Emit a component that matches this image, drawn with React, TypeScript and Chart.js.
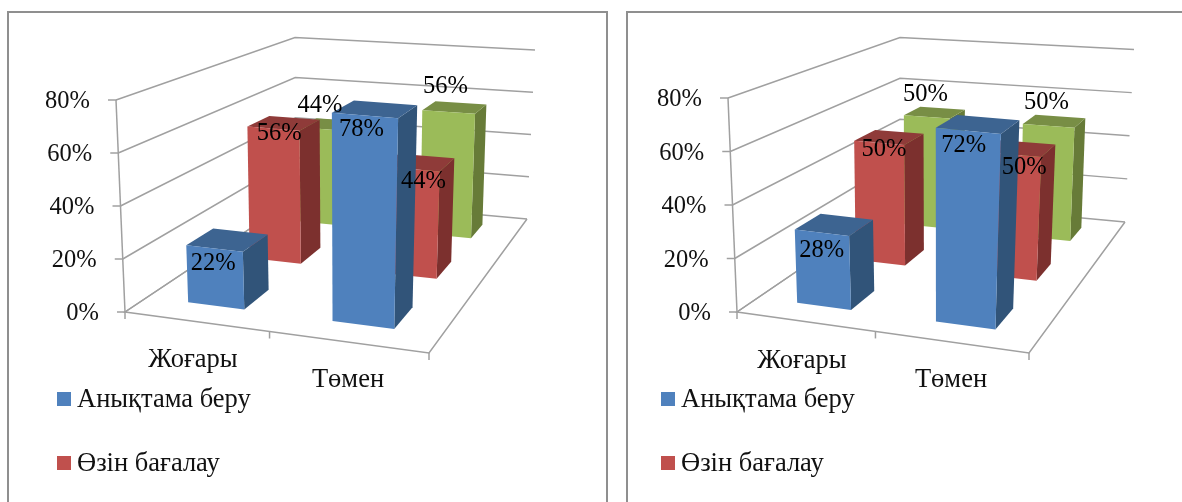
import React, { useEffect, useRef } from "react";
import { Chart, registerables } from "chart.js";

Chart.register(...registerables);

const categories = ["Жоғары", "Төмен"];
const seriesNames = ["Анықтама беру", "Өзін бағалау", ""];
const leftBlue = [22, 78];
const leftRed = [56, 44];
const leftGreen = [44, 56];
const rightBlue = [28, 72];
const rightRed = [50, 50];
const rightGreen = [50, 50];

const FONT = '"Liberation Serif", "Times New Roman", serif';
const GRID = "#a0a0a0";
const TEXT = "#111111";
const faces = [
  { front: "#4f81bd", top: "#3d6491", side: "#315479" },
  { front: "#c0504d", top: "#8f3b39", side: "#7c302e" },
  { front: "#9bbb59", top: "#788e45", side: "#677b38" },
];
const depthSlots = [
  [0.1, 0.235],
  [0.435, 0.57],
  [0.775, 0.905],
];

type P = [number, number];
type Layout = {
  originX: number;
  originY: number;
  legendX: number;
  floor: [P, P, P, P];
  top: [P, P, P, P];
  catLabels: P[];
  labelShift: P[][];
};

const leftLayout: Layout = {
  originX: 9,
  originY: 13,
  legendX: 57,
  floor: [[125, 312], [429, 353], [527, 219], [296, 198]],
  top: [[116, 100], [437, 128], [535, 50], [295, 37.5]],
  catLabels: [[193, 360], [348, 380]],
  labelShift: [
    [[-1, 15], [-3, 14]],
    [[6, 5], [13, 13]],
    [[-3, -24], [-3, -25]],
  ],
};
const rightLayout: Layout = {
  originX: 628,
  originY: 13,
  legendX: 661,
  floor: [[737, 312], [1029, 353], [1125, 222], [900, 201]],
  top: [[728, 98], [1041, 128], [1134, 49.5], [900, 37.5]],
  catLabels: [[802, 361], [951, 380]],
  labelShift: [
    [[0, 18], [-4, 15]],
    [[5, 7], [12, 13]],
    [[-1, -22], [-2, -23]],
  ],
};

function homography(q: [P, P, P, P]) {
  const [[x0, y0], [x1, y1], [x2, y2], [x3, y3]] = q;
  const dx1 = x1 - x2, dx2 = x3 - x2, dx3 = x0 - x1 + x2 - x3;
  const dy1 = y1 - y2, dy2 = y3 - y2, dy3 = y0 - y1 + y2 - y3;
  const den = dx1 * dy2 - dx2 * dy1;
  const g = (dx3 * dy2 - dx2 * dy3) / den;
  const h = (dx1 * dy3 - dx3 * dy1) / den;
  const a = x1 - x0 + g * x1, b = x3 - x0 + h * x3;
  const d = y1 - y0 + g * y1, e = y3 - y0 + h * y3;
  return (u: number, w: number): P => {
    const s = g * u + h * w + 1;
    return [(a * u + b * w + x0) / s, (d * u + e * w + y0) / s];
  };
}

function makePlugin(layout: Layout) {
  const floor = homography(layout.floor);
  const ceil = homography(layout.top);
  const project = (u: number, v: number, w: number): P => {
    const f = floor(u, w), t = ceil(u, w);
    return [
      f[0] + (t[0] - f[0]) * v - layout.originX,
      f[1] + (t[1] - f[1]) * v - layout.originY,
    ];
  };
  const line = (c: CanvasRenderingContext2D, pts: P[]) => {
    c.beginPath();
    pts.forEach((p, i) => (i ? c.lineTo(p[0], p[1]) : c.moveTo(p[0], p[1])));
    c.stroke();
  };
  const poly = (c: CanvasRenderingContext2D, pts: P[], fill: string) => {
    c.beginPath();
    pts.forEach((p, i) => (i ? c.lineTo(p[0], p[1]) : c.moveTo(p[0], p[1])));
    c.closePath();
    c.fillStyle = fill;
    c.fill();
  };
  return {
    id: "pseudo3d",
    beforeDatasetsDraw(chart: any) {
      const c: CanvasRenderingContext2D = chart.ctx;
      const xs = chart.scales.x, ys = chart.scales.y;
      const U = (px: number) => (px - xs.left) / (xs.right - xs.left);
      const V = (py: number) => (ys.bottom - py) / (ys.bottom - ys.top);
      c.save();
      c.strokeStyle = GRID;
      c.lineWidth = 1.5;
      c.lineJoin = "miter";
      for (const t of ys.ticks) {
        const v = V(ys.getPixelForValue(t.value));
        line(c, [project(0, v, 0), project(0, v, 1), project(1, v, 1)]);
        const a = project(0, v, 0);
        line(c, [[a[0] - 8, a[1]], a]);
        c.fillStyle = TEXT;
        c.font = `24.5px ${FONT}`;
        c.textAlign = "right";
        c.textBaseline = "middle";
        c.fillText(t.label, a[0] - 26, a[1] + 2);
      }
      line(c, [project(0, 1, 0), project(0, 0, 0)]);
      line(c, [project(0, 0, 1), project(0, 0, 0), project(1, 0, 0), project(1, 0, 1)]);
      for (const u of [0, 0.5, 1]) {
        const a = project(u, 0, 0);
        line(c, [a, [a[0], a[1] + 7]]);
      }
      c.fillStyle = TEXT;
      c.font = `26.5px ${FONT}`;
      c.textAlign = "center";
      c.textBaseline = "middle";
      categories.forEach((name, i) => {
        const p = layout.catLabels[i];
        c.fillText(name, p[0] - layout.originX, p[1] - layout.originY);
      });
      const labels: { text: string; x: number; y: number }[] = [];
      for (let ds = chart.data.datasets.length - 1; ds >= 0; ds--) {
        const meta = chart.getDatasetMeta(ds);
        const [w0, w1] = depthSlots[ds];
        const col = faces[ds];
        meta.data.forEach((el: any, i: number) => {
          const u0 = U(el.x - el.width / 2), u1 = U(el.x + el.width / 2);
          const v = V(el.y), b = V(el.base);
          const fTL = project(u0, v, w0), fTR = project(u1, v, w0);
          const fBL = project(u0, b, w0), fBR = project(u1, b, w0);
          const bTL = project(u0, v, w1), bTR = project(u1, v, w1);
          const bBR = project(u1, b, w1);
          poly(c, [fTR, bTR, bBR, fBR], col.side);
          poly(c, [fTL, bTL, bTR, fTR], col.top);
          poly(c, [fTL, fTR, fBR, fBL], col.front);
          const mid = project((u0 + u1) / 2, v, w0);
          const shift = layout.labelShift[ds][i];
          labels.unshift({
            text: `${chart.data.datasets[ds].data[i]}%`,
            x: mid[0] + shift[0],
            y: mid[1] + shift[1],
          });
        });
      }
      c.fillStyle = "#000000";
      c.font = `24.5px ${FONT}`;
      c.textAlign = "center";
      c.textBaseline = "middle";
      labels.forEach((l) => c.fillText(l.text, l.x, l.y));
      c.font = `26.5px ${FONT}`;
      c.textAlign = "left";
      chart.data.datasets.forEach((d: any, i: number) => {
        if (!d.label) return;
        const y = 399 + i * 64 - layout.originY;
        const x0 = layout.legendX - layout.originX;
        c.fillStyle = d.backgroundColor;
        c.fillRect(x0, y - 7, 14, 14);
        c.fillStyle = TEXT;
        c.fillText(d.label, x0 + 20, y + 1);
      });
      c.restore();
      return false;
    },
  };
}

function Panel({ layout, values, width }: { layout: Layout; values: number[][]; width: number }) {
  const ref = useRef<HTMLCanvasElement>(null);
  useEffect(() => {
    const chart = new Chart(ref.current as HTMLCanvasElement, {
      type: "bar",
      data: {
        labels: categories,
        datasets: values.map((data, i) => ({
          label: seriesNames[i],
          data,
          backgroundColor: faces[i].front,
          grouped: false,
          barPercentage: 0.4,
          categoryPercentage: 1,
        })),
      },
      options: {
        responsive: false,
        animation: false,
        events: [],
        plugins: { legend: { display: false }, tooltip: { enabled: false }, title: { display: false } },
        scales: {
          x: { ticks: { display: false }, grid: { display: false }, border: { display: false } },
          y: {
            min: 0,
            max: 80,
            ticks: { display: false, stepSize: 20, callback: (v: number) => `${v}%` },
            grid: { display: false },
            border: { display: false },
          },
        },
      },
      plugins: [makePlugin(layout) as any],
    } as any);
    return () => chart.destroy();
  }, []);
  return (
    <div
      style={{
        position: "absolute",
        left: layout.originX - 2,
        top: layout.originY - 2,
        border: "2px solid #8f8f8f",
        width,
        height: 600,
      }}
    >
      <canvas ref={ref} width={width} height={600} style={{ display: "block" }} />
    </div>
  );
}

export default function App() {
  return (
    <div style={{ position: "fixed", inset: 0, width: 1182, height: 502, overflow: "hidden", background: "#fff" }}>
      <Panel layout={leftLayout} values={[leftBlue, leftRed, leftGreen]} width={597} />
      <Panel layout={rightLayout} values={[rightBlue, rightRed, rightGreen]} width={600} />
    </div>
  );
}
